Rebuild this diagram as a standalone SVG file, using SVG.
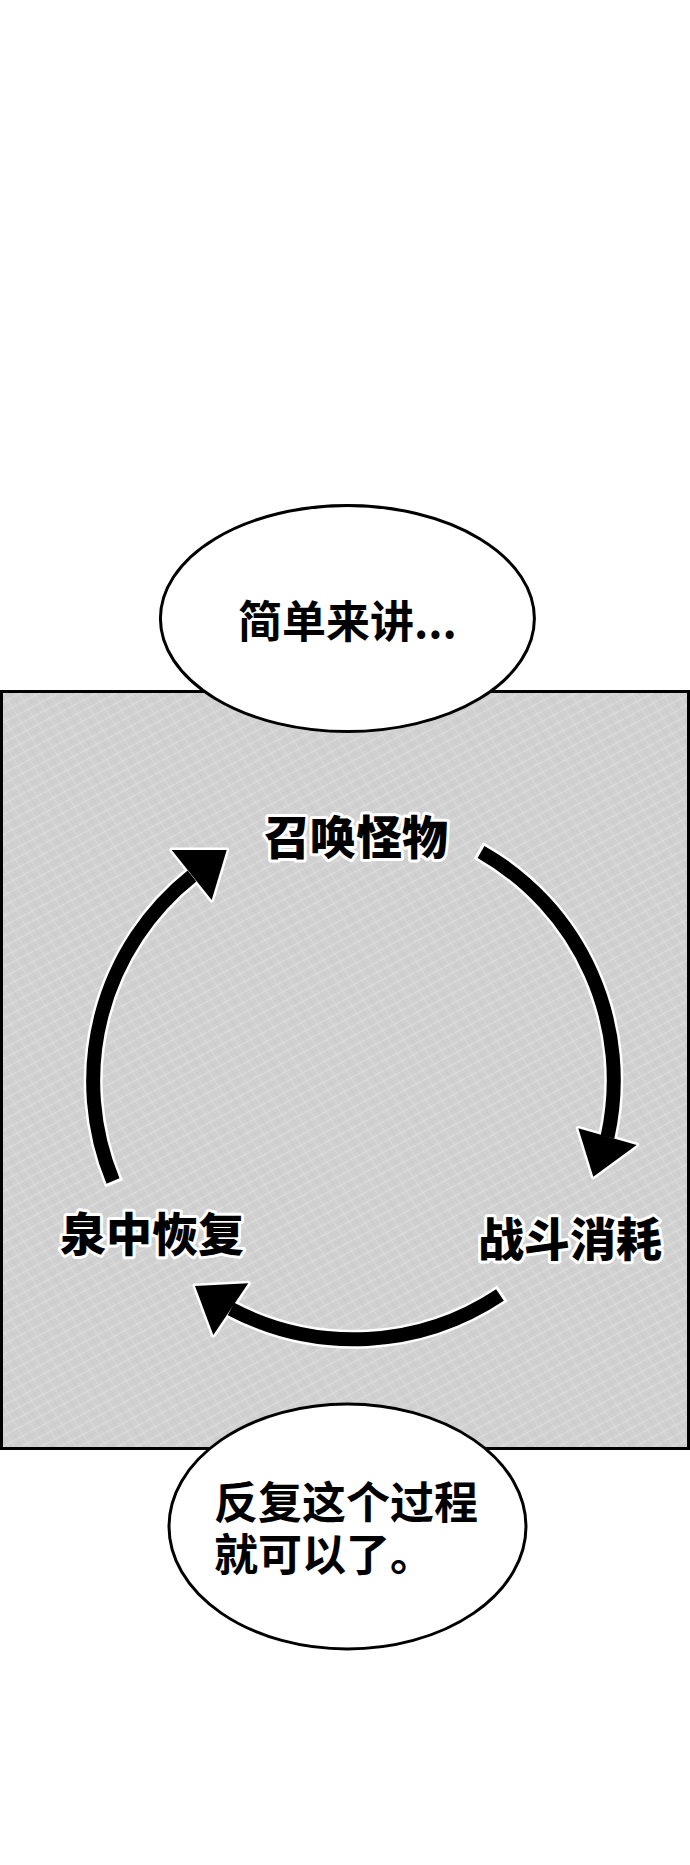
<svg xmlns="http://www.w3.org/2000/svg" width="690" height="1865" viewBox="0 0 690 1865">
  <style>
    .bubble { fill: #ffffff; stroke: #000000; stroke-width: 3; }
    .btext { font-family: "Noto Sans CJK SC", "Noto Sans", sans-serif; font-weight: 700; font-size: 44px; fill: #000000; }
    .label { font-family: "Noto Sans CJK SC", "Noto Sans", sans-serif; font-weight: 900; font-size: 46px; fill: #000000; stroke: #ffffff; stroke-width: 6; stroke-linejoin: round; paint-order: stroke; text-anchor: middle; }
    .shaft-bg { fill: none; stroke: #ffffff; stroke-width: 19; stroke-linecap: butt; }
    .shaft { fill: none; stroke: #000000; stroke-width: 14; stroke-linecap: butt; }
    .head { fill: #000000; stroke: #ffffff; stroke-width: 5; stroke-linejoin: round; paint-order: stroke; }
  </style>
  <defs>
    <pattern id="hatchA" patternUnits="userSpaceOnUse" width="9" height="9" patternTransform="rotate(-28)">
      <line x1="0" y1="0.5" x2="9" y2="0.5" stroke="#e2e2e2" stroke-width="1"/>
      <line x1="0" y1="5" x2="9" y2="5" stroke="#c5c5c5" stroke-width="0.7"/>
    </pattern>
    <pattern id="hatchB" patternUnits="userSpaceOnUse" width="13" height="13" patternTransform="rotate(58)">
      <line x1="0" y1="0.5" x2="13" y2="0.5" stroke="#dedede" stroke-width="1"/>
      <line x1="0" y1="7" x2="13" y2="7" stroke="#c3c3c3" stroke-width="0.7"/>
    </pattern>
  </defs>
  <rect x="0" y="0" width="690" height="1865" fill="#ffffff"/>

  <g id="panel">
    <rect x="1.5" y="691.5" width="687" height="757" fill="#d1d1d1"/>
    <rect x="1.5" y="691.5" width="687" height="757" fill="url(#hatchA)" opacity="0.7"/>
    <rect x="1.5" y="691.5" width="687" height="757" fill="url(#hatchB)" opacity="0.6"/>
    <rect x="1.5" y="691.5" width="687" height="757" fill="none" stroke="#000000" stroke-width="3"/>
  </g>

  <g id="connectors">
    <!-- left: 泉中恢复 -> 召唤怪物 -->
    <path class="shaft-bg" d="M114.1,1183.8 L113,1181 A262,262 0 0 1 192,876"/>
    <polygon class="head" points="171.7,850 226.7,850 211.7,900"/>
    <path class="shaft" d="M113,1181 A262,262 0 0 1 192,876"/>
    <!-- right: 召唤怪物 -> 战斗消耗 -->
    <path class="shaft-bg" d="M478.4,850.5 L481,852 A262,262 0 0 1 607.5,1137"/>
    <polygon class="head" points="578.3,1128.3 636.7,1145 593.3,1176.7"/>
    <path class="shaft" d="M481,852 A262,262 0 0 1 607.5,1137"/>
    <!-- bottom: 战斗消耗 -> 泉中恢复 -->
    <path class="shaft-bg" d="M502.5,1293.3 L500,1295 A264,264 0 0 1 231,1309"/>
    <polygon class="head" points="195,1286 248.3,1283.3 213.3,1335"/>
    <path class="shaft" d="M500,1295 A264,264 0 0 1 231,1309"/>
  </g>

  <g id="node-summon">
    <text class="label" x="356" y="854">召唤怪物</text>
  </g>
  <g id="node-battle">
    <text class="label" x="570" y="1256">战斗消耗</text>
  </g>
  <g id="node-recover">
    <text class="label" x="152" y="1251">泉中恢复</text>
  </g>

  <g id="bubble-top">
    <ellipse class="bubble" cx="347.4" cy="618.6" rx="187" ry="113"/>
    <text class="btext" x="238" y="638">简单来讲...</text>
  </g>

  <g id="bubble-bottom">
    <ellipse class="bubble" cx="347.5" cy="1526.5" rx="178.5" ry="122.5"/>
    <text class="btext"><tspan x="214" y="1519">反复这个过程</tspan><tspan x="214" y="1571">就可以了。</tspan></text>
  </g>
</svg>
